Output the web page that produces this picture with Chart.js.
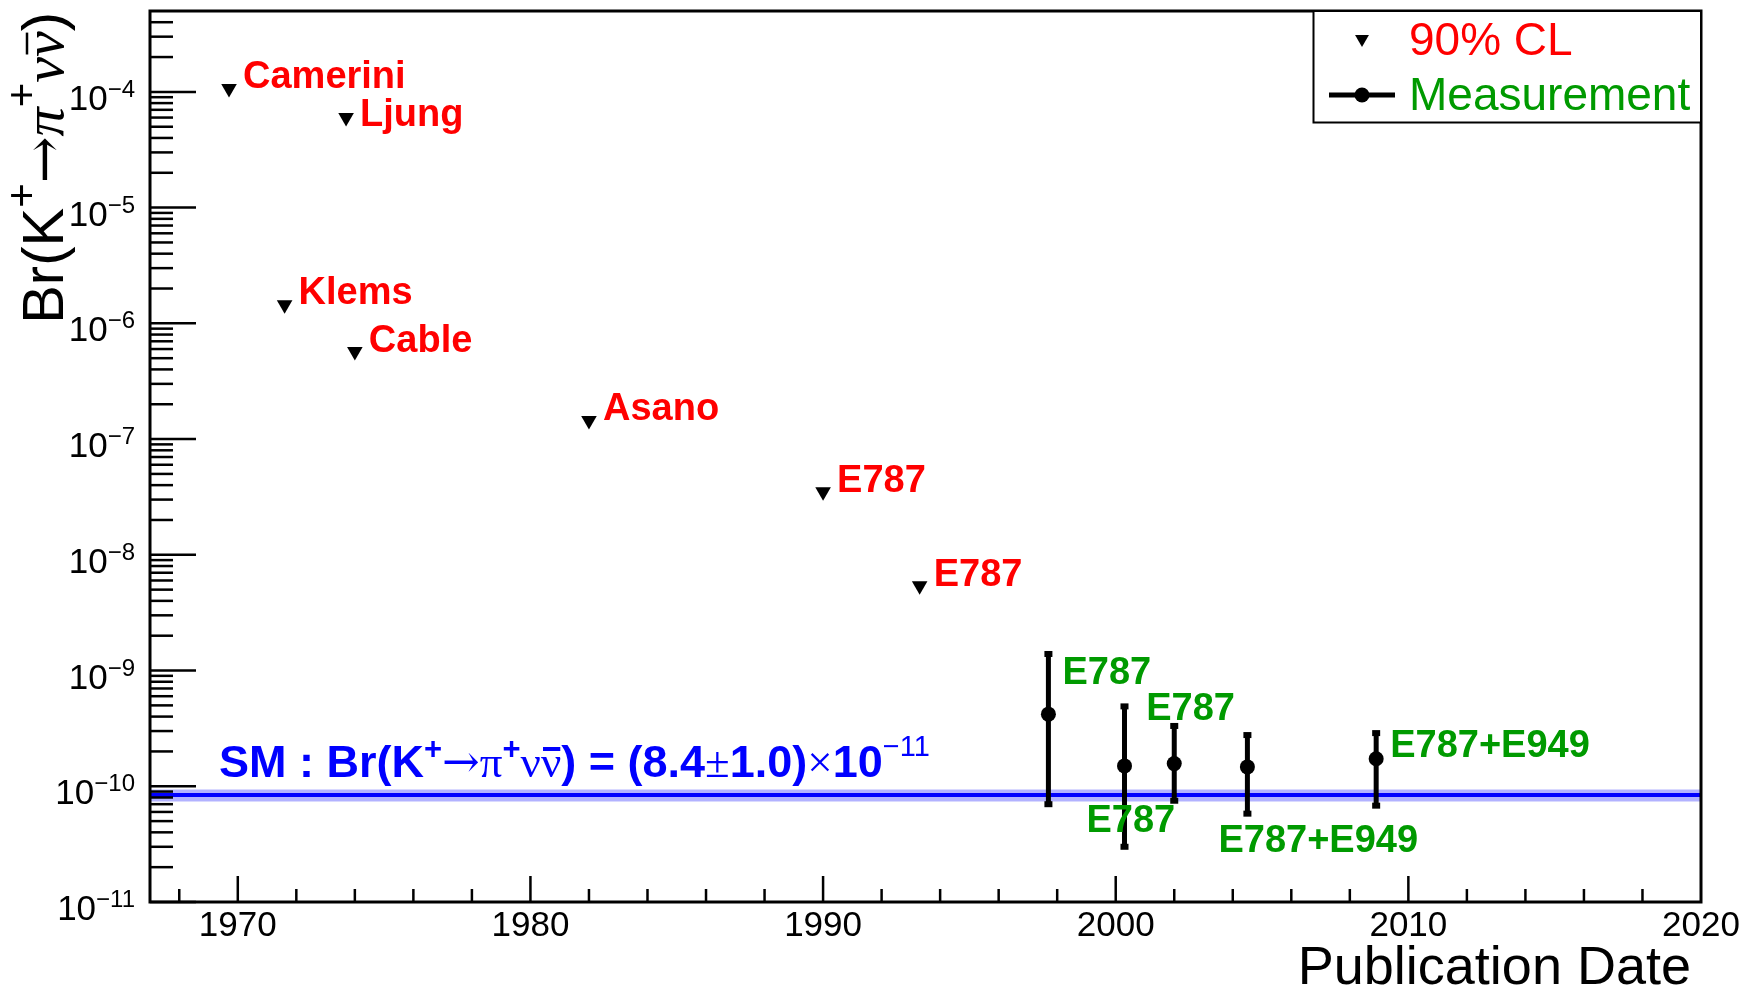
<!DOCTYPE html>
<html>
<head>
<meta charset="utf-8">
<script src="https://cdn.jsdelivr.net/npm/chart.js@4/dist/chart.umd.min.js"></script>
<style>
  html, body { margin: 0; padding: 0; background: #fff; }
  canvas { display: block; }
</style>
</head>
<body>
<canvas id="brChart" width="1747" height="991"></canvas>
<script>
// upper limits (90% CL)
const limitYears = [1969.7, 1973.7, 1971.6, 1974.0, 1982.0, 1990.0, 1993.3];
const limitValues = [1.07e-4, 6.0e-5, 1.45e-6, 5.7e-7, 1.45e-7, 3.5e-8, 5.4e-9];
const limitNames = ["Camerini", "Ljung", "Klems", "Cable", "Asano", "E787", "E787"];

// measurements with asymmetric errors
const measYears = [1997.7, 2000.3, 2002.0, 2004.5, 2008.9];
const measValues = [4.2e-10, 1.5e-10, 1.57e-10, 1.47e-10, 1.73e-10];
const measUpper = [13.9e-10, 4.9e-10, 3.32e-10, 2.77e-10, 2.88e-10];
const measLower = [0.7e-10, 0.3e-10, 0.75e-10, 0.58e-10, 0.68e-10];
const measNames = ["E787", "E787", "E787", "E787+E949", "E787+E949"];

// standard model prediction
const smValue = 8.4e-11;
const smError = 1.0e-11;
const smYears = [1967, 2020];

// axes
const xMin = 1967, xMax = 2020;
const yMin = 1e-11, yMax = 5e-4;
const xLabelYears = [1970, 1980, 1990, 2000, 2010, 2020];
const yDecades = [-11, -10, -9, -8, -7, -6, -5, -4];
const legendTexts = ["90% CL", "Measurement"];

const SANS = '"Liberation Sans", Arial, Helvetica, sans-serif';
const SERIF = '"Liberation Serif", "DejaVu Serif", serif';
const ARROW = '"DejaVu Serif", serif';
const RED = "#ff0000";
const GREEN = "#009a00";
const BLUE = "#0000ff";

// label offsets in pixels, relative to the marker
const limitLabelOffsets = [[14, 0], [14, 8], [14, -1], [14, 0], [14, 0], [14, 0], [14, 0]];
const measLabelOffsets = [[14, -30], [-38, 66], [-28, -44], [-29, 85], [14, -2]];

// draw a run of text pieces with different fonts / raises
function richWidth(ctx, segs) {
  let w = 0;
  segs.forEach(s => { ctx.font = s.f; w += ctx.measureText(s.t).width; });
  return w;
}
function drawRich(ctx, segs, x, y, color) {
  ctx.fillStyle = color;
  ctx.strokeStyle = color;
  ctx.textBaseline = "alphabetic";
  ctx.textAlign = "left";
  let cx = x;
  segs.forEach(s => {
    ctx.font = s.f;
    const w = ctx.measureText(s.t).width;
    ctx.fillText(s.t, cx, y + (s.dy || 0));
    if (s.over) {
      ctx.lineWidth = s.over.w;
      ctx.beginPath();
      ctx.moveTo(cx + w * 0.1, y + s.over.y);
      ctx.lineTo(cx + w * 0.95, y + s.over.y);
      ctx.stroke();
    }
    cx += w;
  });
}

function downTriangle(ctx, x, y, r) {
  ctx.beginPath();
  ctx.moveTo(x, y + r);
  ctx.lineTo(x - r * 0.866, y - r * 0.5);
  ctx.lineTo(x + r * 0.866, y - r * 0.5);
  ctx.closePath();
  ctx.fill();
}

const rootStyle = {
  id: "rootStyle",
  afterDatasetsDraw(chart) {
    const ctx = chart.ctx;
    const xs = chart.scales.x, ys = chart.scales.y;
    ctx.save();
    ctx.fillStyle = "#000";
    ctx.strokeStyle = "#000";
    ctx.lineWidth = 5;
    measYears.forEach((yr, i) => {
      const px = xs.getPixelForValue(yr);
      const top = ys.getPixelForValue(measUpper[i]);
      const bot = ys.getPixelForValue(measLower[i]);
      ctx.beginPath();
      ctx.moveTo(px, top);
      ctx.lineTo(px, bot);
      ctx.stroke();
      ctx.fillRect(px - 4, top - 3, 8, 6);
      ctx.fillRect(px - 4, bot - 3, 8, 6);
    });
    ctx.restore();
  },
  afterDraw(chart) {
    const ctx = chart.ctx;
    const a = chart.chartArea;
    const xs = chart.scales.x, ys = chart.scales.y;
    ctx.save();

    // frame
    ctx.strokeStyle = "#000";
    ctx.lineWidth = 3;
    ctx.strokeRect(a.left, a.top, a.right - a.left, a.bottom - a.top);

    // x ticks: major every 10 years, minor every 2
    ctx.lineWidth = 2.5;
    for (let yr = 1968; yr < xMax; yr += 2) {
      const px = xs.getPixelForValue(yr);
      const len = yr % 10 === 0 ? 26 : 13;
      ctx.beginPath();
      ctx.moveTo(px, a.bottom);
      ctx.lineTo(px, a.bottom - len);
      ctx.stroke();
    }
    // y ticks: decades long, 2..9 short
    for (let d = -11; d <= -4; d++) {
      for (let k = 1; k <= 9; k++) {
        const v = k * Math.pow(10, d);
        if (v < yMin || v >= yMax) continue;
        const py = ys.getPixelForValue(v);
        const len = k === 1 ? 46 : 23;
        ctx.beginPath();
        ctx.moveTo(a.left, py);
        ctx.lineTo(a.left + len, py);
        ctx.stroke();
      }
    }

    // x tick labels
    ctx.fillStyle = "#000";
    ctx.font = "35px " + SANS;
    ctx.textAlign = "center";
    ctx.textBaseline = "middle";
    xLabelYears.forEach(yr => ctx.fillText(String(yr), xs.getPixelForValue(yr), a.bottom + 24));

    // y tick labels 10^n
    yDecades.forEach(d => {
      const py = ys.getPixelForValue(Math.pow(10, d));
      const segs = [
        { t: "10", f: "35px " + SANS, dy: 0 },
        { t: "\u2212" + String(-d), f: "24px " + SANS, dy: -13 }
      ];
      const w = richWidth(ctx, segs);
      drawRich(ctx, segs, a.left - 15 - w, py + 18, "#000");
    });

    // x axis title
    ctx.font = "54px " + SANS;
    ctx.textAlign = "right";
    ctx.textBaseline = "alphabetic";
    ctx.fillStyle = "#000";
    ctx.fillText("Publication Date", a.right - 10, 984);

    // y axis title, rotated
    const ySegs = [
      { t: "Br(K", f: "58px " + SANS },
      { t: "+", f: "42px " + SANS, dy: -27 },
      { t: "\u2192", f: "56px " + ARROW },
      { t: "\u03c0", f: "italic 58px " + SERIF },
      { t: "+", f: "42px " + SANS, dy: -27 },
      { t: "\u03bd", f: "italic 58px " + SERIF },
      { t: "\u03bd", f: "italic 58px " + SERIF, over: { y: -36, w: 2.5 } },
      { t: ")", f: "58px " + SANS }
    ];
    const yw = richWidth(ctx, ySegs);
    ctx.save();
    ctx.translate(63, 12);
    ctx.rotate(-Math.PI / 2);
    drawRich(ctx, ySegs, -yw, 0, "#000");
    ctx.restore();

    // SM prediction text
    const smSegs = [
      { t: "SM : Br(K", f: "bold 45px " + SANS },
      { t: "+", f: "bold 31px " + SANS, dy: -18 },
      { t: "\u2192", f: "45px " + ARROW },
      { t: "\u03c0", f: "45px " + SERIF },
      { t: "+", f: "bold 31px " + SANS, dy: -18 },
      { t: "\u03bd", f: "45px " + SERIF },
      { t: "\u03bd", f: "45px " + SERIF, over: { y: -28, w: 4 } },
      { t: ") = (8.4", f: "bold 45px " + SANS },
      { t: "\u00b1", f: "45px " + SERIF },
      { t: "1.0)", f: "bold 45px " + SANS },
      { t: "\u00d7", f: "45px " + SERIF },
      { t: "10", f: "bold 45px " + SANS },
      { t: "\u221211", f: "29px " + SANS, dy: -21 }
    ];
    drawRich(ctx, smSegs, 219, 777, BLUE);

    // experiment labels
    ctx.font = "bold 38px " + SANS;
    ctx.textAlign = "left";
    ctx.textBaseline = "alphabetic";
    ctx.fillStyle = RED;
    limitNames.forEach((name, i) => {
      const o = limitLabelOffsets[i];
      ctx.fillText(name, xs.getPixelForValue(limitYears[i]) + o[0], ys.getPixelForValue(limitValues[i]) + o[1]);
    });
    ctx.fillStyle = GREEN;
    measNames.forEach((name, i) => {
      const o = measLabelOffsets[i];
      ctx.fillText(name, xs.getPixelForValue(measYears[i]) + o[0], ys.getPixelForValue(measValues[i]) + o[1]);
    });

    // legend box
    const lx = 1313.5, ly = a.top, lw = a.right - 1313.5, lh = 111.5;
    ctx.fillStyle = "#fff";
    ctx.fillRect(lx, ly, lw, lh);
    ctx.strokeStyle = "#000";
    ctx.lineWidth = 2;
    ctx.strokeRect(lx, ly, lw, lh);
    ctx.fillStyle = "#000";
    downTriangle(ctx, 1362, 39, 8);
    ctx.lineWidth = 5;
    ctx.beginPath();
    ctx.moveTo(1329, 95);
    ctx.lineTo(1395, 95);
    ctx.stroke();
    ctx.beginPath();
    ctx.arc(1362, 95, 7.5, 0, Math.PI * 2);
    ctx.fill();
    ctx.font = "46px " + SANS;
    ctx.textBaseline = "middle";
    ctx.fillStyle = RED;
    ctx.fillText(legendTexts[0], 1409, 42);
    ctx.fillStyle = GREEN;
    ctx.fillText(legendTexts[1], 1409, 97);

    ctx.restore();
  }
};

const ctx = document.getElementById("brChart").getContext("2d");
new Chart(ctx, {
  type: "scatter",
  data: {
    datasets: [
      {
        label: "90% CL",
        data: limitYears.map((x, i) => ({ x: x, y: limitValues[i] })),
        pointStyle: "triangle",
        rotation: 180,
        pointRadius: 9,
        backgroundColor: "#000",
        borderColor: "#000",
        borderWidth: 0,
        order: 0
      },
      {
        label: "Measurement",
        data: measYears.map((x, i) => ({ x: x, y: measValues[i] })),
        pointStyle: "circle",
        pointRadius: 7.5,
        backgroundColor: "#000",
        borderColor: "#000",
        borderWidth: 0,
        order: 0
      },
      {
        type: "line",
        label: "SM upper",
        data: smYears.map(x => ({ x: x, y: smValue + smError })),
        borderWidth: 0,
        pointRadius: 0,
        fill: false,
        order: 3
      },
      {
        type: "line",
        label: "SM lower",
        data: smYears.map(x => ({ x: x, y: smValue - smError })),
        borderWidth: 0,
        pointRadius: 0,
        backgroundColor: "rgba(0, 0, 255, 0.3)",
        fill: "-1",
        order: 2
      },
      {
        type: "line",
        label: "SM",
        data: smYears.map(x => ({ x: x, y: smValue })),
        borderColor: BLUE,
        borderWidth: 4,
        pointRadius: 0,
        fill: false,
        order: 1
      }
    ]
  },
  options: {
    responsive: false,
    animation: false,
    layout: { padding: { left: 150, right: 46, top: 11, bottom: 89 } },
    plugins: { legend: { display: false }, tooltip: { enabled: false } },
    scales: {
      x: { type: "linear", min: xMin, max: xMax, display: false },
      y: { type: "logarithmic", min: yMin, max: yMax, display: false }
    }
  },
  plugins: [rootStyle]
});
</script>
</body>
</html>
